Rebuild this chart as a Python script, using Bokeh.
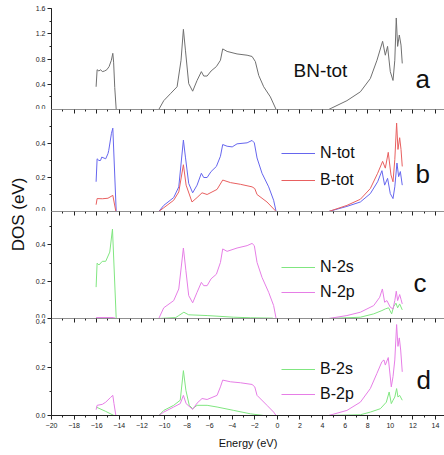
import math
from bokeh.plotting import figure
from bokeh.layouts import column, row
from bokeh.models import (Range1d, SingleIntervalTicker, LinearAxis, Label, Legend,
                          LegendItem, CustomJSTickFormatter, PrintfTickFormatter)
from bokeh.embed import file_html
from bokeh.resources import INLINE

NAN = float("nan")
FONT = "Liberation Sans"

# ---------------- data (energy in eV, DOS values) ----------------
bn_tot_e = [-16.05, -15.96, -15.8, -15.65, -15.5, -15.3, -15.1, -14.9, -14.7, -14.57, -14.5, -14.4, -14.27, NAN,
            -10.5, -10.06, -9.47, -8.88, -8.53, -8.32, -8.14, -7.85, -7.5, -7.11, -6.73, -6.52, -6.22, -5.87,
            -5.4, -5.04, -4.84, -4.45, -3.57, -2.68, -2.24, -1.95, -1.65, -1.21, -0.62, -0.11, NAN,
            4.54, 6.16, 7.35, 8.23, 8.82, 9.32, 9.56, 9.76, 10.0, 10.24, 10.4, 10.53, 10.65, 10.8, 10.95, 11.06]
bn_tot_v = [0.36, 0.63, 0.61, 0.63, 0.60, 0.61, 0.63, 0.68, 0.78, 0.89, 0.75, 0.35, 0.0, NAN,
            0.0, 0.14, 0.25, 0.36, 0.78, 1.27, 0.94, 0.41, 0.29, 0.46, 0.60, 0.53, 0.53, 0.61,
            0.68, 0.78, 0.96, 0.92, 0.88, 0.86, 0.84, 0.76, 0.54, 0.36, 0.20, 0.0, NAN,
            0.0, 0.14, 0.28, 0.49, 0.78, 1.08, 0.86, 1.0, 0.6, 0.46, 0.78, 1.45, 1.0, 1.18, 1.02, 0.73]

n_tot_e = [-16.05, -15.96, -15.8, -15.66, -15.55, -15.2, -15.0, -14.93, -14.69, -14.57, -14.27, NAN,
           -10.5, -10.06, -9.18, -8.73, -8.32, -8.14, -7.85, -7.5, -7.11, -6.73, -6.52, -6.22, -5.87, -5.4,
           -5.04, -4.84, -4.45, -4.0, -3.57, -2.68, -2.24, -2.04, -1.8, -1.36, -0.77, -0.33, -0.11, NAN,
           4.54, 6.16, 7.35, 8.23, 8.88, 9.26, 9.5, 9.76, 10.0, 10.24, 10.4, 10.59, 10.74, 10.89, 11.06]
n_tot_v = [0.175, 0.31, 0.30, 0.30, 0.32, 0.31, 0.34, 0.36, 0.46, 0.49, 0.0, NAN,
           0.0, 0.036, 0.082, 0.145, 0.42, 0.32, 0.165, 0.11, 0.155, 0.225, 0.2, 0.2, 0.235, 0.265,
           0.325, 0.394, 0.384, 0.38, 0.398, 0.404, 0.418, 0.404, 0.315, 0.225, 0.145, 0.066, 0.0, NAN,
           0.0, 0.03, 0.056, 0.105, 0.175, 0.24, 0.155, 0.195, 0.105, 0.076, 0.145, 0.285, 0.205, 0.235, 0.155]

b_tot_e = [-16.05, -15.96, -15.5, -15.0, -14.57, -14.3, NAN,
           -10.5, -10.06, -9.18, -8.73, -8.32, -8.08, -7.56, -7.11, -6.67, -6.22, -5.34, -4.84, -4.15,
           -3.27, -2.24, -2.0, -1.8, -0.92, -0.11, NAN,
           4.54, 6.16, 7.35, 8.23, 8.88, 9.32, 9.56, 9.82, 10.06, 10.24, 10.4, 10.56, 10.68, 10.83, 10.95, 11.06]
b_tot_v = [0.04, 0.076, 0.075, 0.078, 0.095, 0.0, NAN,
           0.0, 0.022, 0.066, 0.115, 0.275, 0.155, 0.056, 0.082, 0.11, 0.10, 0.13, 0.185, 0.17,
           0.16, 0.145, 0.135, 0.10, 0.056, 0.0, NAN,
           0.0, 0.036, 0.072, 0.135, 0.225, 0.295, 0.255, 0.348, 0.215, 0.175, 0.305, 0.52, 0.365, 0.434, 0.365, 0.265]

n_2s_e = [-16.05, -15.96, -15.8, -15.5, -15.2, -14.84, -14.6, -14.27, NAN,
          -10.5, -9.0, -8.73, -8.28, -7.85, -6.22, -3.86, -2.39, -0.4, NAN,
          4.54, 7.35, 8.53, 9.26, 9.56, 9.85, 10.12, 10.3, 10.5, 10.65, 10.83, 11.06]
n_2s_v = [0.17, 0.30, 0.29, 0.31, 0.31, 0.36, 0.485, 0.0, NAN,
          0.0, 0.005, 0.016, 0.034, 0.02, 0.016, 0.007, 0.004, 0.002, NAN,
          0.0, 0.007, 0.025, 0.043, 0.052, 0.058, 0.025, 0.065, 0.083, 0.058, 0.079, 0.047]

n_2p_e = [-16.05, -14.5, -14.3, NAN,
          -10.5, -10.06, -9.18, -8.73, -8.32, -8.1, -7.85, -7.5, -7.11, -6.73, -6.52, -6.22, -5.87, -5.4,
          -5.04, -4.84, -4.45, -3.57, -2.68, -2.24, -2.04, -1.8, -1.36, -0.77, -0.33, -0.11, NAN,
          4.54, 6.16, 7.35, 8.53, 9.06, 9.3, 9.5, 9.7, 10.0, 10.24, 10.4, 10.53, 10.65, 10.83, 10.95, 11.06]
n_2p_v = [0.005, 0.005, 0.0, NAN,
          0.0, 0.058, 0.097, 0.16, 0.382, 0.26, 0.124, 0.085, 0.142, 0.196, 0.178, 0.178, 0.215, 0.24,
          0.304, 0.377, 0.364, 0.382, 0.395, 0.407, 0.395, 0.304, 0.223, 0.142, 0.07, 0.0, NAN,
          0.0, 0.016, 0.034, 0.07, 0.115, 0.16, 0.088, 0.097, 0.061, 0.052, 0.097, 0.148, 0.097, 0.13, 0.104, 0.079]

b_2s_e = [-16.05, -15.2, -14.47, NAN,
          -10.5, -10.06, -9.18, -8.6, -8.32, -8.1, -7.8, -7.5, -7.11, -6.22, -5.34, -3.86, -2.39, -1.21, NAN,
          4.54, 7.35, 8.23, 9.12, 9.65, 9.9, 10.09, 10.24, 10.4, 10.56, 10.68, 10.83, 11.06]
b_2s_v = [0.035, 0.017, 0.0, NAN,
          0.0, 0.021, 0.042, 0.063, 0.185, 0.104, 0.042, 0.028, 0.042, 0.042, 0.035, 0.021, 0.007, 0.0, NAN,
          0.0, 0.003, 0.014, 0.028, 0.055, 0.097, 0.049, 0.063, 0.076, 0.111, 0.076, 0.083, 0.063]

b_2p_e = [-16.05, -15.96, -15.5, -15.2, -14.78, -14.57, -14.47, -14.3, NAN,
          -10.5, -10.06, -9.18, -8.6, -8.32, -8.08, -7.5, -7.11, -6.67, -6.22, -5.34, -5.04, -4.84, -4.15,
          -3.27, -2.24, -2.0, -1.8, -0.92, -0.33, -0.11, NAN,
          4.54, 6.16, 7.35, 8.23, 8.82, 9.26, 9.44, 9.56, 9.82, 10.09, 10.24, 10.4, 10.56, 10.68, 10.8, 10.92, 11.06]
b_2p_v = [0.024, 0.042, 0.046, 0.055, 0.074, 0.083, 0.05, 0.0, NAN,
          0.0, 0.014, 0.035, 0.049, 0.083, 0.049, 0.025, 0.051, 0.07, 0.066, 0.083, 0.118, 0.146, 0.139,
          0.135, 0.128, 0.118, 0.083, 0.042, 0.014, 0.0, NAN,
          0.0, 0.021, 0.055, 0.111, 0.174, 0.222, 0.229, 0.208, 0.239, 0.118, 0.16, 0.229, 0.375, 0.285, 0.32, 0.27, 0.18]

x_min, x_max = -20, 14.8
panel_ymax = [1.6, 0.6, 0.58, 0.4]
panel_yint = [0.4, 0.2, 0.2, 0.2]
panel_letters = ["a", "b", "c", "d"]

GRAY = "#707070"
BLUE = "#6666ee"
RED = "#e86060"
GREEN = "#80e680"
MAGENTA = "#e67ee6"
AXIS = "#222222"

FRAME_W = 393
frame_heights = [101, 102, 107, 97]
top_borders = [8, 0, 0, 0]


def style_axis(ax):
    ax.axis_line_color = AXIS
    ax.major_tick_line_color = AXIS
    ax.minor_tick_line_color = AXIS
    ax.major_label_text_font = FONT
    ax.major_label_text_font_size = "7px"
    ax.major_label_text_color = "#222222"


def make_panel(i):
    last = i == 3
    p = figure(frame_width=FRAME_W, frame_height=frame_heights[i],
               x_range=Range1d(x_min, x_max), y_range=Range1d(0, panel_ymax[i]),
               output_backend="svg", toolbar_location=None,
               x_axis_location=None, y_axis_location="left",
               min_border_left=23, min_border_right=0,
               min_border_top=top_borders[i], min_border_bottom=40 if last else 0)
    p.outline_line_color = None
    p.grid.grid_line_color = None
    p.background_fill_color = "white"
    ya = p.yaxis[0]
    ya.ticker = SingleIntervalTicker(interval=panel_yint[i], num_minor_ticks=2)
    ya.formatter = PrintfTickFormatter(format="%.1f")
    ya.major_tick_out = 4
    ya.major_tick_in = 0
    ya.minor_tick_out = 2
    ya.minor_tick_in = 0
    ya.major_label_standoff = 2
    style_axis(ya)
    if i > 0:
        top = LinearAxis(fixed_location=panel_ymax[i],
                         ticker=SingleIntervalTicker(interval=2, num_minor_ticks=2),
                         formatter=CustomJSTickFormatter(code="return ''"),
                         major_tick_in=4, major_tick_out=0, minor_tick_in=2, minor_tick_out=0,
                         major_label_standoff=0)
        style_axis(top)
        p.add_layout(top, "above")
    if last:
        bot = LinearAxis(ticker=SingleIntervalTicker(interval=2, num_minor_ticks=2),
                         axis_label="Energy (eV)",
                         major_tick_in=0, major_tick_out=4, minor_tick_in=0, minor_tick_out=2,
                         major_label_standoff=3, axis_label_standoff=6)
        style_axis(bot)
        bot.axis_label_text_font = FONT
        bot.axis_label_text_font_size = "11px"
        bot.axis_label_text_font_style = "normal"
        bot.axis_label_text_color = "#111111"
        p.add_layout(bot, "below")
    return p


figs = [make_panel(i) for i in range(4)]
fa, fb, fc, fd = figs

# panel a
fa.line(bn_tot_e, bn_tot_v, line_color=GRAY, line_width=1)
fa.add_layout(Label(x=242, y=39, x_units="screen", y_units="screen", text="BN-tot",
                    text_font=FONT, text_font_size="19px", text_color="#111111",
                    text_baseline="alphabetic"))

# panel b
rb1 = fb.line(n_tot_e, n_tot_v, line_color=BLUE, line_width=1)
rb2 = fb.line(b_tot_e, b_tot_v, line_color=RED, line_width=1)
# panel c
rc1 = fc.line(n_2s_e, n_2s_v, line_color=GREEN, line_width=1)
rc2 = fc.line(n_2p_e, n_2p_v, line_color=MAGENTA, line_width=1)
# panel d
rd1 = fd.line(b_2s_e, b_2s_v, line_color=GREEN, line_width=1)
rd2 = fd.line(b_2p_e, b_2p_v, line_color=MAGENTA, line_width=1)

legend_specs = [
    (fb, [("N-tot", rb1), ("B-tot", rb2)], (230, 21), 7),
    (fc, [("N-2s", rc1), ("N-2p", rc2)], (230, 16), 5),
    (fd, [("B-2s", rd1), ("B-2p", rd2)], (230, 11), 5),
]
for p, items, loc, sp in legend_specs:
    leg = Legend(items=[LegendItem(label=t, renderers=[r]) for t, r in items],
                 location=loc, padding=0, margin=0, spacing=sp,
                 glyph_width=34, glyph_height=20, label_height=20, label_standoff=5,
                 label_text_font=FONT, label_text_font_size="16px", label_text_color="#111111",
                 border_line_color=None, background_fill_alpha=0)
    p.add_layout(leg)

letter_pos = [(364, 31), (364, 38), (362, 36), (365, 36)]
for p, letter, (lx, ly) in zip(figs, panel_letters, letter_pos):
    p.add_layout(Label(x=lx, y=ly, x_units="screen", y_units="screen", text=letter,
                       text_font=FONT, text_font_size="26px", text_color="#111111",
                       text_baseline="alphabetic"))

# y-axis title column
lf = figure(width=28, height=455, x_range=Range1d(0, 1), y_range=Range1d(0, 1),
            output_backend="svg", toolbar_location=None,
            x_axis_location=None, y_axis_location=None, min_border=0)
lf.outline_line_color = None
lf.grid.grid_line_color = None
lf.add_layout(Label(x=18, y=241, x_units="screen", y_units="screen", text="DOS (eV)",
                    angle=math.pi / 2, text_align="center", text_baseline="middle",
                    text_font=FONT, text_font_size="17px", text_color="#111111"))

layout = row(lf, column(*figs))
open("out.html", "w").write(file_html(layout, INLINE))
